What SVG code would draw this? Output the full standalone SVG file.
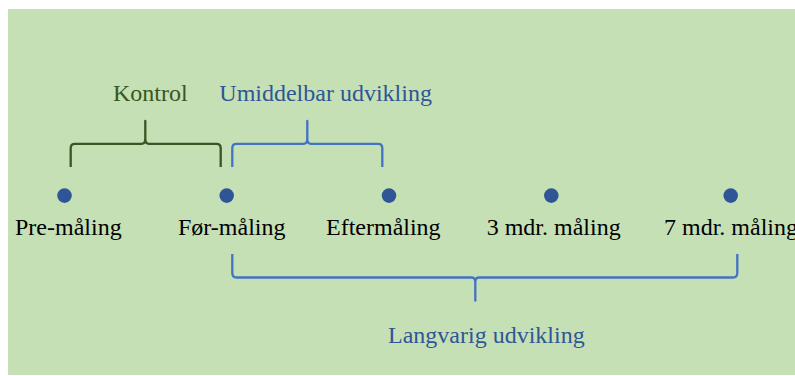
<svg xmlns="http://www.w3.org/2000/svg" width="795" height="376" viewBox="0 0 795 376">
  <style>
    .lbl { font-family: "Liberation Serif", "Times New Roman", serif; font-size: 24px; fill: #000000; }
    .green { fill: #385723; }
    .blue { fill: #2F5597; }
    .dot { fill: #2F5597; }
    .brace { fill: none; stroke-width: 2.3; stroke-linejoin: round; stroke-linecap: butt; }
    .bg { stroke: #385723; }
    .bb { stroke: #4472C4; }
  </style>
  <rect x="8" y="9" width="787" height="366" fill="#C5E0B4"/>
  <g id="connectors">
    <path class="brace bg" d="M70.7,167 V148 Q70.7,143.8 75,143.8 H141.5 Q145.3,143.8 145.3,139 V121 V139 Q145.3,143.8 149,143.8 H216.5 Q220.7,143.8 220.7,148 V167"/>
    <path class="brace bb" d="M232.3,167 V148 Q232.3,143.8 236.5,143.8 H303.5 Q307.3,143.8 307.3,139 V121 V139 Q307.3,143.8 311,143.8 H378 Q382.3,143.8 382.3,148 V167"/>
    <path class="brace bb" d="M232.3,254 V273 Q232.3,277.5 236.5,277.5 H471.5 Q475.3,277.5 475.3,282 V300.7 V282 Q475.3,277.5 479,277.5 H733 Q737.3,277.5 737.3,273 V254"/>
  </g>
  <g id="label-kontrol"><text class="lbl green" x="113" y="101">Kontrol</text></g>
  <g id="label-umiddelbar"><text class="lbl blue" x="219.3" y="101">Umiddelbar udvikling</text></g>
  <g id="label-langvarig"><text class="lbl blue" x="388" y="343">Langvarig udvikling</text></g>
  <g id="node-pre"><circle class="dot" cx="64.5" cy="195.6" r="7.3"/><text class="lbl" x="15" y="235">Pre-måling</text></g>
  <g id="node-for"><circle class="dot" cx="226.7" cy="195.6" r="7.3"/><text class="lbl" x="178" y="235">Før-måling</text></g>
  <g id="node-efter"><circle class="dot" cx="389" cy="195.6" r="7.3"/><text class="lbl" x="326" y="235">Eftermåling</text></g>
  <g id="node-3mdr"><circle class="dot" cx="551.3" cy="195.6" r="7.3"/><text class="lbl" x="486.7" y="235">3 mdr. måling</text></g>
  <g id="node-7mdr"><circle class="dot" cx="730.7" cy="195.6" r="7.3"/><text class="lbl" x="664" y="235">7 mdr. måling</text></g>
</svg>
